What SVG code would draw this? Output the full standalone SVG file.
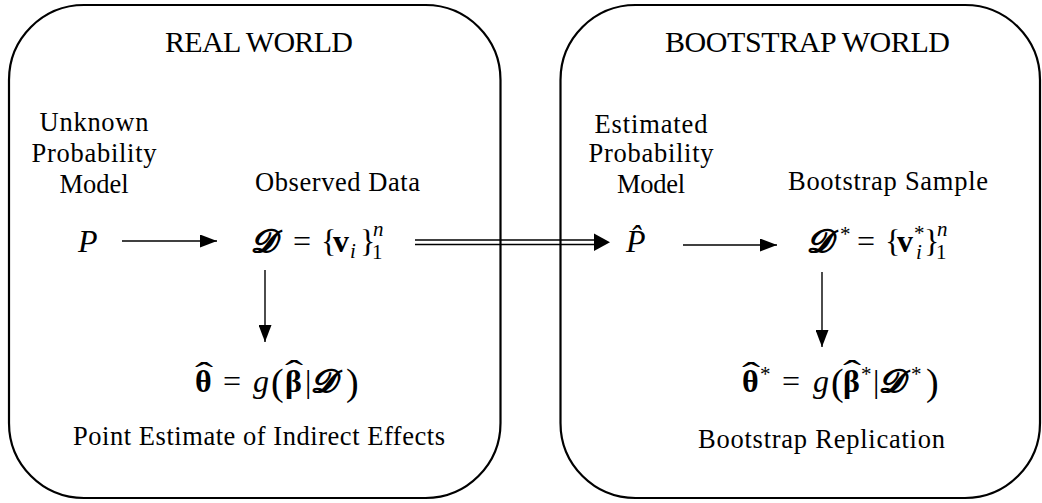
<svg xmlns="http://www.w3.org/2000/svg" width="1042" height="503" viewBox="0 0 1042 503">
<style>
.box{fill:none;stroke:#000;stroke-width:2.2}
.lbl{font-family:"Liberation Serif","Times New Roman",serif;font-size:26.5px;fill:#000;text-anchor:middle}
.ttl{font-family:"Liberation Serif","Times New Roman",serif;font-size:30px;fill:#000;text-anchor:middle}
.m{font-family:"Liberation Serif","DejaVu Serif",serif;font-size:32px;fill:#000}
.hat{font-family:"Liberation Serif","DejaVu Serif",serif;font-size:34px;fill:#000;text-anchor:middle}
.it{font-style:italic}
.b{font-weight:bold}
.bi{font-weight:bold;font-style:italic}
.sm{font-size:21px}
.par{font-size:38px}
.ln{stroke:#000;stroke-width:1.4;fill:none}
</style>
<defs>
<marker id="ah" markerUnits="userSpaceOnUse" markerWidth="17" markerHeight="13" refX="17" refY="6.5" orient="auto">
<path d="M0,0 L17,6.5 L0,13 z" fill="#000"/>
</marker>
</defs>
<rect id="real-world-box" class="box" x="9" y="5" width="491.5" height="493" rx="75" ry="75"/>
<rect id="bootstrap-world-box" class="box" x="560.5" y="5" width="479.5" height="493" rx="75" ry="75"/>
<g id="real-world-title"><text class="ttl" x="259" y="52" textLength="188">REAL WORLD</text></g>
<g id="bootstrap-world-title"><text class="ttl" x="807.5" y="52" textLength="285">BOOTSTRAP WORLD</text></g>
<g id="node-P">
<text class="lbl" x="94" y="131" textLength="109">Unknown</text>
<text class="lbl" x="94" y="162" textLength="125">Probability</text>
<text class="lbl" x="94" y="193" textLength="69">Model</text>
<text class="m it" x="78" y="252">P</text>
</g>
<g id="node-D">
<text class="lbl" x="337.5" y="191" textLength="165">Observed Data</text>
<text class="m"><tspan class="bi" x="251" y="252">𝓓</tspan><tspan x="293" y="252">=</tspan><tspan x="321" y="252">{</tspan><tspan class="b" x="333" y="252">v</tspan><tspan class="it sm" x="350" y="258">i</tspan><tspan x="360" y="252">}</tspan><tspan class="sm" x="372" y="259">1</tspan><tspan class="it sm" x="373" y="236">n</tspan></text>
</g>
<g id="node-theta">
<text class="m"><tspan class="b" x="195" y="392">θ</tspan><tspan x="223" y="392">=</tspan><tspan class="it" x="253" y="392">g</tspan><tspan class="par" x="271" y="395">(</tspan><tspan class="b" x="285" y="392">β</tspan><tspan x="305" y="392">|</tspan><tspan class="bi" x="311" y="392">𝓓</tspan><tspan class="par" x="346" y="395">)</tspan></text>
<text class="hat" transform="translate(204,386) scale(1.6,1)">ˆ</text>
<text class="hat" transform="translate(294,384) scale(1.6,1)">ˆ</text>
<text class="lbl" x="259" y="445" textLength="372">Point Estimate of Indirect Effects</text>
</g>
<g id="node-Phat">
<text class="lbl" x="651" y="133" textLength="113">Estimated</text>
<text class="lbl" x="651" y="162" textLength="125">Probability</text>
<text class="lbl" x="651" y="193" textLength="68">Model</text>
<text class="m it" x="626" y="252">P̂</text>
</g>
<g id="node-Dstar">
<text class="lbl" x="888" y="190" textLength="200">Bootstrap Sample</text>
<text class="m"><tspan class="bi" x="807" y="252">𝓓</tspan><tspan class="sm" x="840" y="241">*</tspan><tspan x="857" y="252">=</tspan><tspan x="885" y="252">{</tspan><tspan class="b" x="897" y="252">v</tspan><tspan class="it sm" x="916" y="259">i</tspan><tspan class="sm" x="914" y="240">*</tspan><tspan x="924" y="252">}</tspan><tspan class="sm" x="936" y="259">1</tspan><tspan class="it sm" x="937" y="236">n</tspan></text>
</g>
<g id="node-thetastar">
<text class="m"><tspan class="b" x="742" y="392">θ</tspan><tspan class="sm" x="760" y="381">*</tspan><tspan x="782" y="392">=</tspan><tspan class="it" x="813" y="392">g</tspan><tspan class="par" x="831" y="395">(</tspan><tspan class="b" x="843" y="392">β</tspan><tspan class="sm" x="861" y="381">*</tspan><tspan x="873" y="392">|</tspan><tspan class="bi" x="879" y="392">𝓓</tspan><tspan class="sm" x="911" y="381">*</tspan><tspan class="par" x="926" y="395">)</tspan></text>
<text class="hat" transform="translate(751,386) scale(1.6,1)">ˆ</text>
<text class="hat" transform="translate(852,384) scale(1.6,1)">ˆ</text>
<text class="lbl" x="821.5" y="448" textLength="247">Bootstrap Replication</text>
</g>
<g id="connectors">
<line class="ln" x1="122" y1="241" x2="217" y2="241" marker-end="url(#ah)"/>
<line class="ln" x1="265" y1="270" x2="265" y2="342" marker-end="url(#ah)"/>
<line class="ln" x1="683" y1="245" x2="777" y2="245" marker-end="url(#ah)"/>
<line class="ln" x1="822" y1="272" x2="822" y2="347" marker-end="url(#ah)"/>
<line class="ln" x1="415" y1="240" x2="597" y2="240"/>
<line class="ln" x1="415" y1="244.5" x2="597" y2="244.5"/>
<path d="M594,233.5 L610,242.2 L594,251 z" fill="#000"/>
</g>
</svg>
